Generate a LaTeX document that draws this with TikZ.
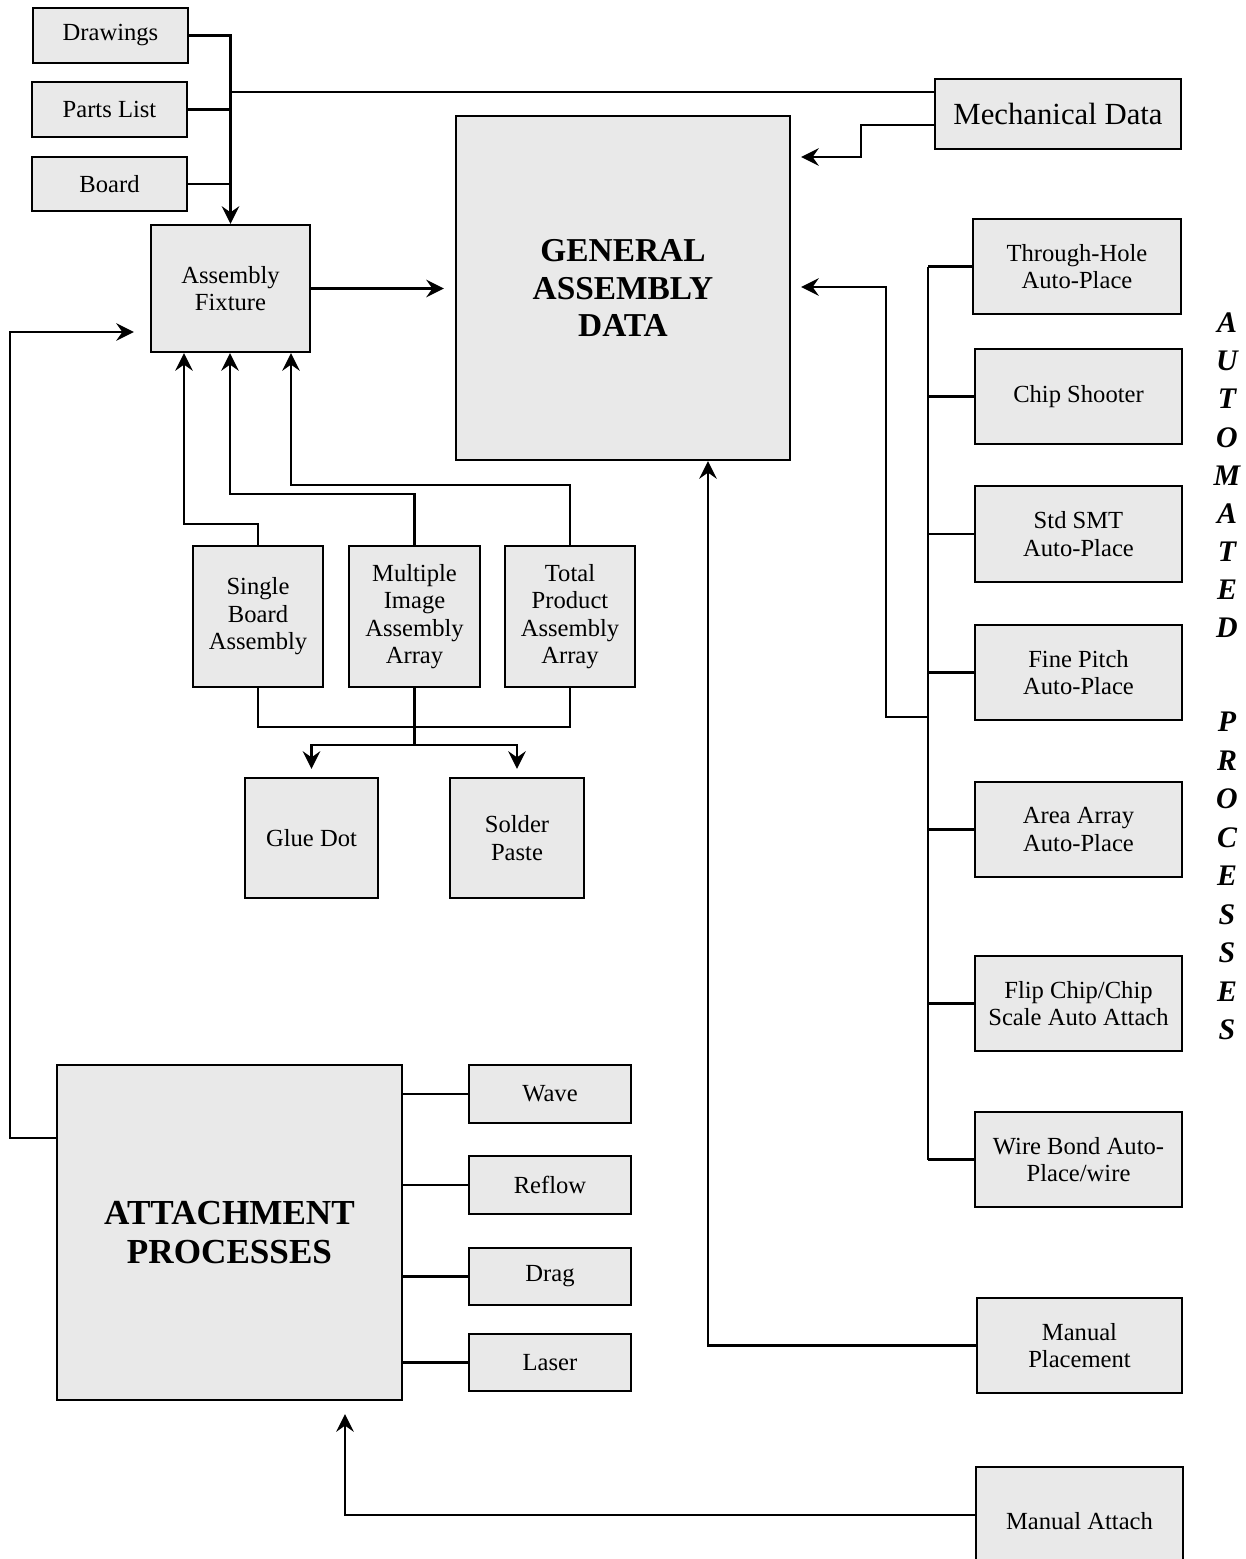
\documentclass[tikz,border=0pt]{standalone}
\usepackage{fontspec}
\setmainfont{Liberation Serif}
\usetikzlibrary{arrows,arrows.meta,positioning,calc}
\definecolor{boxgray}{RGB}{233,233,233}

\begin{document}
\begin{tikzpicture}[x=0.02cm,y=-0.02cm,>={Stealth[length=10pt,width=10pt,inset=3.5pt]},
    box/.style={draw,fill=boxgray,line width=1.4pt,align=center,inner sep=0pt,font=\fontsize{14}{15.7}\selectfont},
    big/.style={box,font=\bfseries\fontsize{19}{21.5}\selectfont},
    vlet/.style={font=\bfseries\itshape\fontsize{17}{17}\selectfont,inner sep=0pt},
    wire/.style={line width=1.3pt}]
    \useasboundingbox (0,0) rectangle (1246,1559);

    \node[box,minimum width=3.1cm,minimum height=1.1cm] (drw) at (110.5,35.5) {Drawings};
    \node[box,minimum width=3.1cm,minimum height=1.1cm] (parts) at (109.5,109.5) {Parts List};
    \node[box,minimum width=3.1cm,minimum height=1.08cm] (board) at (109.5,184) {Board};
    \node[box,minimum width=3.18cm,minimum height=2.54cm] (fix) at (230.5,288.5) {Assembly\\Fixture};
    \node[big,minimum width=6.68cm,minimum height=6.88cm] (gad) at (623,288) {GENERAL\\ASSEMBLY\\DATA};
    \node[box,minimum width=4.92cm,minimum height=1.4cm,font=\fontsize{17.5}{20}\selectfont] (mech) at (1058,114) {Mechanical Data};

    \node[box,minimum width=4.16cm,minimum height=1.9cm] (thru) at (1077,266.5) {Through-Hole\\Auto-Place};
    \node[box,minimum width=4.14cm,minimum height=1.9cm] (chip) at (1078.5,396.5) {Chip Shooter};
    \node[box,minimum width=4.14cm,minimum height=1.92cm] (smt) at (1078.5,534) {Std SMT\\Auto-Place};
    \node[box,minimum width=4.14cm,minimum height=1.9cm] (pitch) at (1078.5,672.5) {Fine Pitch\\Auto-Place};
    \node[box,minimum width=4.14cm,minimum height=1.9cm] (area) at (1078.5,829.5) {Area Array\\Auto-Place};
    \node[box,minimum width=4.14cm,minimum height=1.9cm] (flip) at (1078.5,1003.5) {Flip Chip/Chip\\Scale Auto Attach};
    \node[box,minimum width=4.14cm,minimum height=1.9cm] (wireb) at (1078.5,1159.5) {Wire Bond Auto-\\Place/wire};
    \node[box,minimum width=4.1cm,minimum height=1.9cm] (manp) at (1079.5,1345.5) {Manual\\Placement};
    \node[box,minimum width=4.14cm,minimum height=2.16cm] (mana) at (1079.5,1521) {Manual Attach};

    \node[box,minimum width=2.6cm,minimum height=2.82cm] (single) at (258,616.5) {Single\\Board\\Assembly};
    \node[box,minimum width=2.62cm,minimum height=2.82cm] (multi) at (414.5,616.5) {Multiple\\Image\\Assembly\\Array};
    \node[box,minimum width=2.6cm,minimum height=2.82cm] (total) at (570,616.5) {Total\\Product\\Assembly\\Array};
    \node[box,minimum width=2.66cm,minimum height=2.4cm] (glue) at (311.5,838) {Glue Dot};
    \node[box,minimum width=2.68cm,minimum height=2.4cm] (solder) at (517,838) {Solder\\Paste};

    \node[big,minimum width=6.9cm,minimum height=6.7cm,font=\bfseries\fontsize{20}{22.7}\selectfont] (att) at (229.5,1232.5) {ATTACHMENT\\PROCESSES};
    \node[box,minimum width=3.24cm,minimum height=1.16cm] (wave) at (550,1094) {Wave};
    \node[box,minimum width=3.24cm,minimum height=1.16cm] (reflow) at (550,1185) {Reflow};
    \node[box,minimum width=3.24cm,minimum height=1.14cm] (drag) at (550,1276.5) {Drag};
    \node[box,minimum width=3.24cm,minimum height=1.14cm] (laser) at (550,1362.5) {Laser};

    \foreach \c [count=\i] in {A,U,T,O,M,A,T,E,D}
        \node[vlet] (auto\i) at (1227,{323+(\i-1)*38.1}) {\c};
    \foreach \c [count=\i] in {P,R,O,C,E,S,S,E,S}
        \node[vlet] (proc\i) at (1227,{722+(\i-1)*38.5}) {\c};

    \coordinate (bus) at (928,0);
    \coordinate (tap) at (230,92);
    \coordinate (split) at (414.5,745);

    \draw[wire,->] (drw.east) -| (fix.north);
    \draw[wire] (parts.east) -- (parts.east -| fix.north);
    \draw[wire] (board.east) -- (board.east -| fix.north);
    \draw[wire] (tap) -- (tap -| mech.west);
    \draw[wire,->,shorten >=0.2cm] (mech.west |- 0,125) -- (861,125) |- (gad.east |- 0,157);
    \draw[wire,->,shorten >=0.22cm] (fix.east) -- (fix.east -| gad.west);
    \draw[wire,->,shorten >=0.32cm] (att.west |- 0,1138) -- (10,1138) -- (10,332) -- (fix.west |- 0,332);

    \draw[wire] (thru.west -| bus) -- (wireb.west -| bus);
    \foreach \n in {thru,chip,smt,pitch,area,flip,wireb}
        \draw[wire] (\n.west) -- (\n.west -| bus);
    \draw[wire,->,shorten >=0.2cm] (bus |- 0,717) -- (886,717) -- (886,287) -- (gad.east |- 0,287);
    \draw[wire,->] (manp.west) -| (gad.south -| 708,0);
    \draw[wire,->,shorten >=0.26cm] (mana.west |- 0,1515) -| (att.south -| 345,0);

    \foreach \n in {wave,reflow,drag,laser}
        \draw[wire] (\n.west) -- (\n.west -| att.east);

    \draw[wire,->] (single.north) |- (184,524) -- (fix.south -| 184,0);
    \draw[wire,->] (multi.north) |- (230,494) -- (fix.south -| 230,0);
    \draw[wire,->] (total.north) |- (291,485) -- (fix.south -| 291,0);
    \draw[wire] (single.south) |- (total.south |- 0,727) -- (total.south);
    \draw[wire] (multi.south) -- (split);
    \draw[wire,->,shorten >=0.16cm] (split) -| (glue.north);
    \draw[wire,->,shorten >=0.16cm] (split) -| (solder.north);
\end{tikzpicture}
\end{document}
